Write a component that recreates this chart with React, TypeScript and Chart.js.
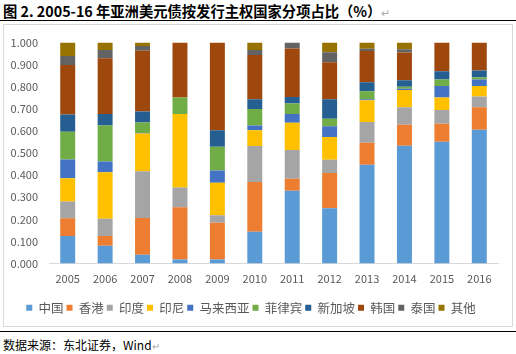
import React, { useEffect, useRef } from "react";
import { Chart, registerables } from "chart.js";

Chart.register(...registerables);

const years = ["2005", "2006", "2007", "2008", "2009", "2010", "2011", "2012", "2013", "2014", "2015", "2016"];
const china = [0.124, 0.080, 0.040, 0.018, 0.018, 0.144, 0.329, 0.250, 0.447, 0.533, 0.551, 0.606];
const hongkong = [0.081, 0.044, 0.166, 0.237, 0.166, 0.225, 0.055, 0.160, 0.100, 0.095, 0.082, 0.101];
const india = [0.076, 0.079, 0.212, 0.089, 0.034, 0.163, 0.130, 0.060, 0.093, 0.079, 0.062, 0.049];
const indonesia = [0.105, 0.210, 0.170, 0.333, 0.148, 0.071, 0.123, 0.103, 0.099, 0.078, 0.056, 0.047];
const malaysia = [0.085, 0.049, 0.003, 0.000, 0.055, 0.022, 0.040, 0.048, 0.004, 0.006, 0.052, 0.030];
const philippines = [0.125, 0.163, 0.047, 0.074, 0.108, 0.074, 0.047, 0.034, 0.037, 0.009, 0.030, 0.010];
const singapore = [0.079, 0.052, 0.050, 0.000, 0.074, 0.045, 0.030, 0.089, 0.040, 0.029, 0.037, 0.031];
const korea = [0.224, 0.252, 0.275, 0.249, 0.397, 0.200, 0.219, 0.167, 0.142, 0.126, 0.130, 0.126];
const thailand = [0.040, 0.037, 0.022, 0.000, 0.000, 0.022, 0.027, 0.045, 0.010, 0.015, 0.000, 0.000];
const others = [0.061, 0.034, 0.015, 0.000, 0.000, 0.034, 0.000, 0.044, 0.028, 0.030, 0.000, 0.000];

const seriesNames = ["中国", "香港", "印度", "印尼", "马来西亚", "菲律宾", "新加坡", "韩国", "泰国", "其他"];
const seriesData = [china, hongkong, india, indonesia, malaysia, philippines, singapore, korea, thailand, others];
const seriesColors = ["#5B9BD5", "#ED7D31", "#A5A5A5", "#FFC000", "#4472C4", "#70AD47", "#255E91", "#9E480E", "#636363", "#997300"];

const yTicks = [0, 0.1, 0.2, 0.3, 0.4, 0.5, 0.6, 0.7, 0.8, 0.9, 1.0];

const FONT = "'Noto Sans CJK SC', 'Noto Sans', sans-serif";

export default function App() {
  const ref = useRef<HTMLCanvasElement | null>(null);

  useEffect(() => {
    document.body.style.margin = "0";
    const canvas = ref.current;
    if (!canvas) return;
    const chart = new Chart(canvas, {
      type: "bar",
      data: {
        labels: years,
        datasets: seriesNames.map((name, i) => ({
          label: name,
          data: seriesData[i],
          backgroundColor: seriesColors[i],
          borderWidth: 0,
          barPercentage: 0.4,
          categoryPercentage: 1,
        })),
      },
      options: {
        animation: false,
        responsive: false,
        maintainAspectRatio: false,
        devicePixelRatio: 1,
        layout: { padding: { left: 0, right: 14, top: 14, bottom: 2 } },
        plugins: {
          tooltip: { enabled: false },
          legend: {
            position: "bottom",
            labels: {
              boxWidth: 6,
              boxHeight: 6,
              padding: 3,
              color: "#595959",
              font: { family: FONT, size: 12.5 },
            },
          },
        },
        scales: {
          x: {
            stacked: true,
            grid: { display: false, drawTicks: false },
            border: { color: "#d9d9d9" },
            ticks: { color: "#595959", font: { family: FONT, size: 11 }, padding: 9 },
            afterFit: (s: any) => { s.height = 35; },
          },
          y: {
            stacked: true,
            min: 0,
            max: 1,
            grid: { display: false, drawTicks: false },
            border: { display: false },
            afterBuildTicks: (s: any) => { s.ticks = yTicks.map((v) => ({ value: v })); },
            ticks: {
              color: "#595959",
              font: { family: FONT, size: 11 },
              padding: 11,
              callback: (v: any) => Number(v).toFixed(3),
            },
            afterFit: (s: any) => { s.width = 45; },
          },
        },
      },
    });
    return () => chart.destroy();
  }, []);

  return (
    <div style={{ position: "fixed", left: 0, top: 0, width: 516, height: 354, background: "#fff", fontFamily: FONT }}>
      <div style={{ position: "absolute", left: 3, top: 2, fontSize: 14.3, fontWeight: 700, color: "#000", whiteSpace: "nowrap", lineHeight: "18px" }}>
        图 2. 2005-16 年亚洲美元债按发行主权国家分项占比（%）<span style={{ color: "#aaa", fontWeight: 400, fontSize: 11 }}>↵</span>
      </div>
      <div style={{ position: "absolute", left: 0, top: 20, width: 516, height: 0, borderTop: "1.5px solid #000" }} />
      <div style={{ position: "absolute", left: 3, top: 24, width: 508, height: 301, border: "1px solid #d9d9d9" }} />
      <canvas ref={ref} width={508} height={301} style={{ position: "absolute", left: 4, top: 25, width: 508, height: 301 }} />
      <div style={{ position: "absolute", left: 0, top: 331, width: 516, height: 0, borderTop: "1.5px solid #000" }} />
      <div style={{ position: "absolute", left: 3, top: 337, fontSize: 12, color: "#000", whiteSpace: "nowrap", lineHeight: "15px" }}>
        数据来源：东北证券，Wind<span style={{ color: "#aaa", fontSize: 10 }}>↵</span>
      </div>
    </div>
  );
}
